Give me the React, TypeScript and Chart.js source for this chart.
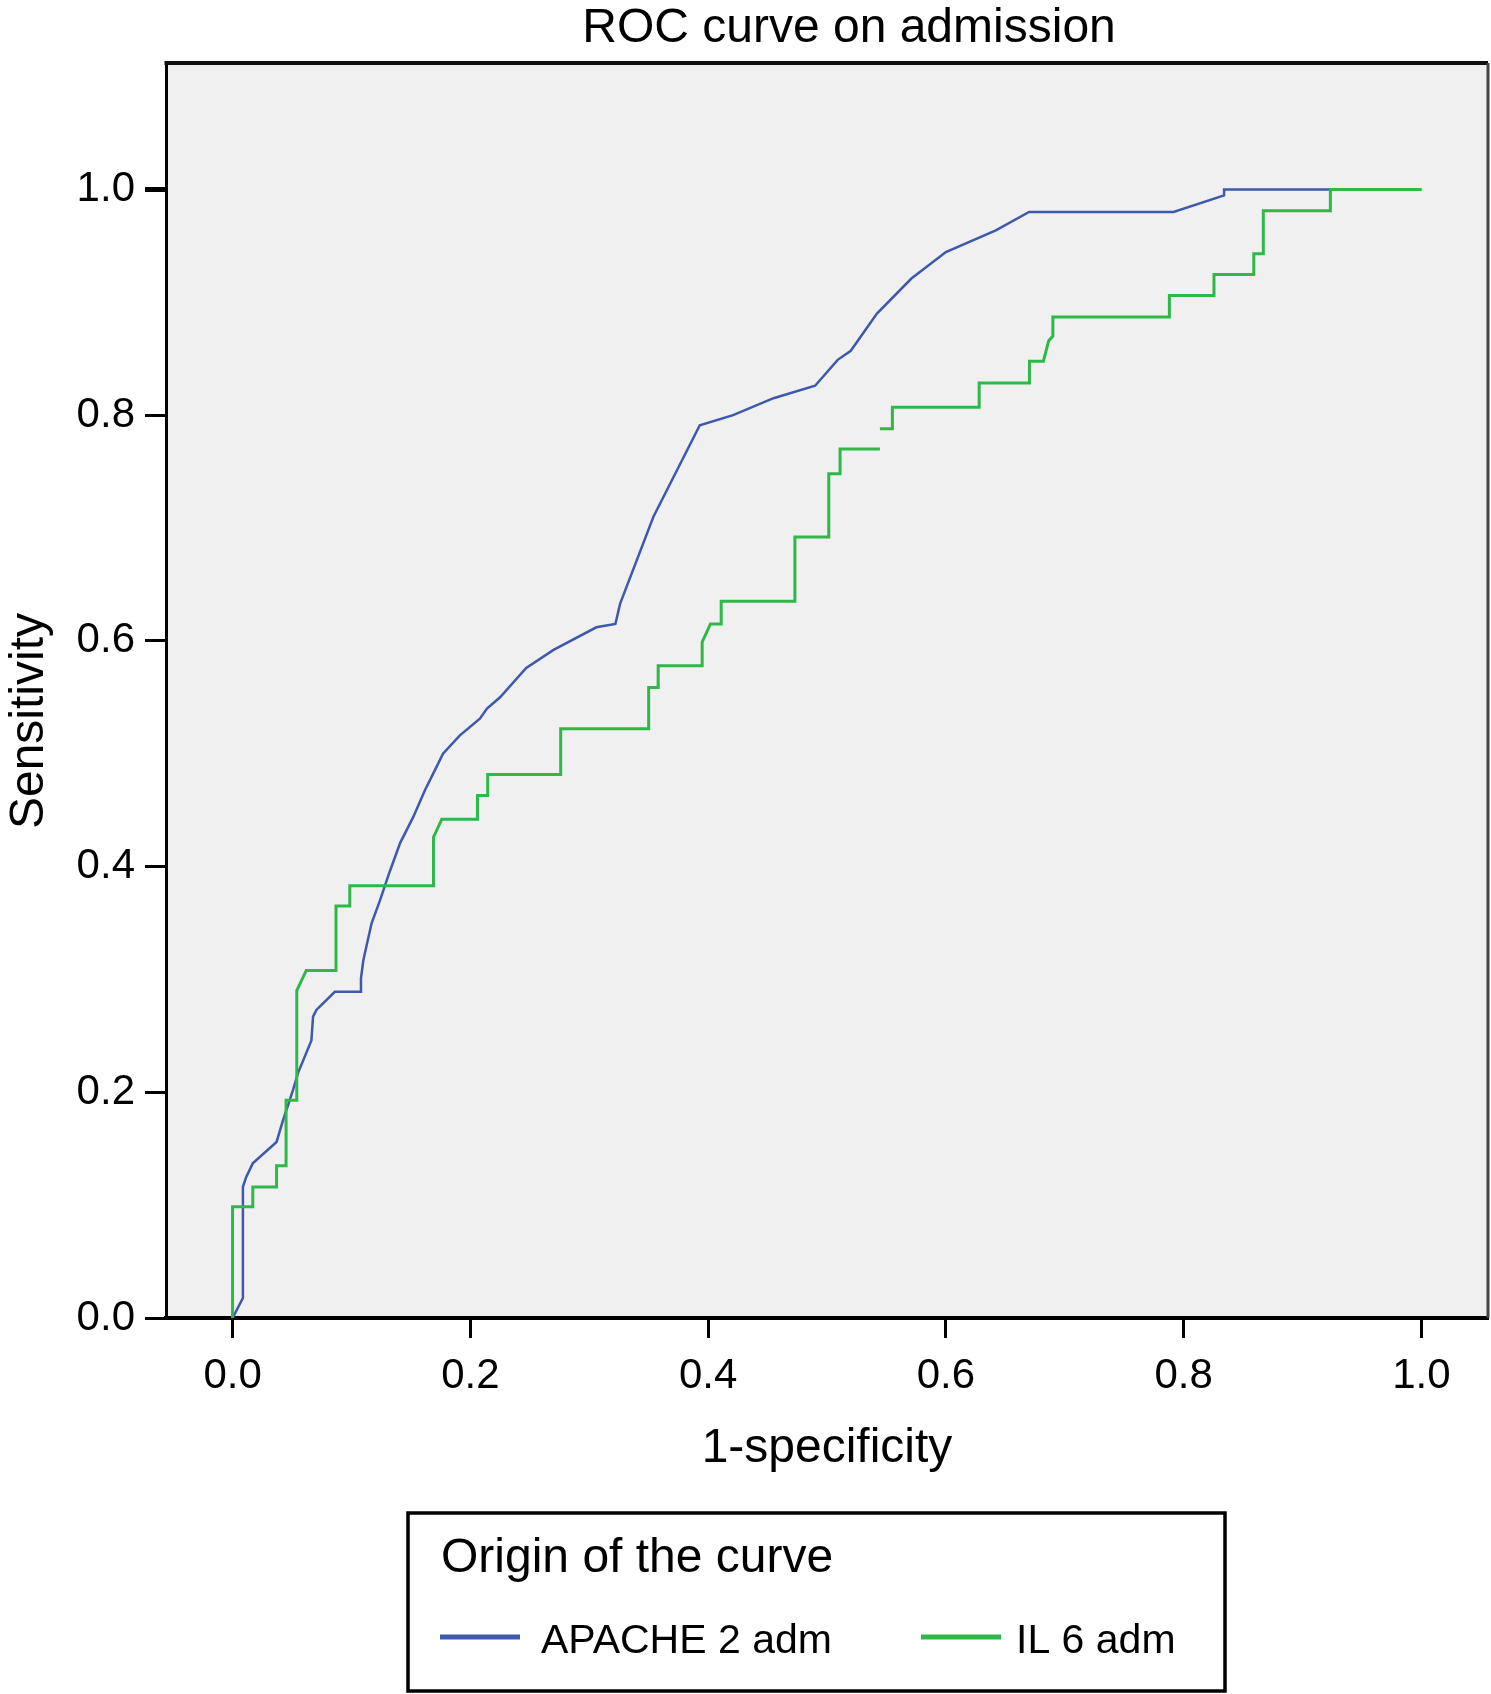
import React, { useEffect, useRef } from "react";
import { Chart, registerables } from "chart.js";

Chart.register(...registerables);

const chartTitle = "ROC curve on admission";
const xAxisTitle = "1-specificity";
const yAxisTitle = "Sensitivity";
const legendTitle = "Origin of the curve";
const seriesNames = ["APACHE 2 adm", "IL 6 adm"];
const seriesColors = ["#3E58AC", "#2EB848"];
const tickValues = [0, 0.2, 0.4, 0.6, 0.8, 1.0];

const apacheX = [
  0, 0.0087, 0.0087, 0.0115, 0.017, 0.037, 0.0424, 0.0508, 0.055, 0.0663,
  0.0677, 0.0705, 0.086, 0.108, 0.108, 0.11, 0.114, 0.117, 0.124, 0.132,
  0.141, 0.152, 0.162, 0.17, 0.177, 0.191, 0.208, 0.214, 0.225, 0.247,
  0.27, 0.306, 0.322, 0.326, 0.354, 0.393, 0.421, 0.455, 0.49, 0.509,
  0.52, 0.542, 0.571, 0.6, 0.642, 0.67, 0.7915, 0.834, 0.834, 1.0,
];
const apacheY = [
  0, 0.0177, 0.1163, 0.125, 0.137, 0.156, 0.175, 0.202, 0.217, 0.246,
  0.267, 0.273, 0.289, 0.289, 0.301, 0.317, 0.336, 0.35, 0.37, 0.395,
  0.421, 0.444, 0.468, 0.485, 0.5, 0.516, 0.531, 0.54, 0.55, 0.576,
  0.592, 0.612, 0.615, 0.633, 0.71, 0.791, 0.8, 0.815, 0.826, 0.849,
  0.857, 0.89, 0.921, 0.9445, 0.9637, 0.98, 0.98, 0.9947, 1.0, 1.0,
];

const il6X = [
  0, 0, 0.017, 0.017, 0.037, 0.037, 0.045, 0.045, 0.054, 0.054,
  0.062, 0.087, 0.087, 0.0986, 0.0986, 0.169, 0.169, 0.176, 0.206, 0.206,
  0.2146, 0.2146, 0.276, 0.276, 0.35, 0.35, 0.358, 0.358, 0.395, 0.395,
  0.402, 0.411, 0.411, 0.473, 0.473, 0.5015, 0.5015, 0.511, 0.511, 0.5445,
  0.5445, 0.5445, 0.555, 0.555, 0.628, 0.628, 0.6703, 0.6703, 0.682, 0.6865,
  0.69, 0.69, 0.788, 0.788, 0.8255, 0.8255, 0.859, 0.859, 0.867, 0.867,
  0.9234, 0.9234, 1.0,
];
const il6Y = [
  0, 0.0986, 0.0986, 0.116, 0.116, 0.135, 0.135, 0.193, 0.193, 0.29,
  0.308, 0.308, 0.365, 0.365, 0.383, 0.383, 0.426, 0.442, 0.442, 0.463,
  0.463, 0.4815, 0.4815, 0.522, 0.522, 0.5586, 0.5586, 0.578, 0.578, 0.599,
  0.615, 0.615, 0.635, 0.635, 0.692, 0.692, 0.748, 0.748, 0.77, 0.77,
  null, 0.788, 0.788, 0.807, 0.807, 0.8285, 0.8285, 0.8477, 0.8477, 0.866,
  0.87, 0.887, 0.887, 0.906, 0.906, 0.9245, 0.9245, 0.943, 0.943, 0.981,
  0.981, 1.0, 1.0,
];

const FONT = '"Liberation Sans", Arial, Helvetica, sans-serif';
const W = 1491;
const H = 1694;

const decorPlugin = {
  id: "decor",
  beforeDraw(chart: any) {
    const { ctx, chartArea } = chart;
    ctx.save();
    ctx.fillStyle = "#ffffff";
    ctx.fillRect(0, 0, chart.width, chart.height);
    ctx.fillStyle = "#f0f0f0";
    ctx.fillRect(chartArea.left, chartArea.top, chartArea.right - chartArea.left, chartArea.bottom - chartArea.top);
    ctx.restore();
  },
  afterDraw(chart: any) {
    const { ctx, chartArea } = chart;
    ctx.save();
    // frame top and right
    ctx.strokeStyle = "#111111";
    ctx.lineWidth = 4;
    ctx.beginPath();
    ctx.moveTo(chartArea.left - 1.5, chartArea.top);
    ctx.lineTo(chartArea.right, chartArea.top);
    ctx.stroke();
    ctx.strokeStyle = "#444444";
    ctx.lineWidth = 3;
    ctx.beginPath();
    ctx.moveTo(chartArea.right, chartArea.top);
    ctx.lineTo(chartArea.right, chartArea.bottom);
    ctx.stroke();

    // chart title
    ctx.fillStyle = "#000000";
    ctx.font = `48px ${FONT}`;
    ctx.textAlign = "center";
    ctx.textBaseline = "alphabetic";
    ctx.fillText(chartTitle, 849, 42);

    // y axis title
    ctx.save();
    ctx.translate(43, 721);
    ctx.rotate(-Math.PI / 2);
    ctx.font = `48px ${FONT}`;
    ctx.textAlign = "center";
    ctx.fillText(yAxisTitle, 0, 0);
    ctx.restore();

    // legend box
    ctx.strokeStyle = "#000000";
    ctx.lineWidth = 3.5;
    ctx.strokeRect(408, 1513, 817, 178);
    ctx.textAlign = "left";
    ctx.font = `48px ${FONT}`;
    ctx.fillText(legendTitle, 441, 1572);
    ctx.font = `41px ${FONT}`;
    const items = [
      { lx: 440, tx: 541 },
      { lx: 921, tx: 1016 },
    ];
    items.forEach((it, i) => {
      ctx.fillStyle = seriesColors[i];
      ctx.fillRect(it.lx, 1634.5, 80, 5);
      ctx.fillStyle = "#000000";
      ctx.fillText(seriesNames[i], it.tx, 1653);
    });
    ctx.restore();
  },
};

export default function App() {
  const canvasRef = useRef<HTMLCanvasElement | null>(null);

  useEffect(() => {
    document.body.style.margin = "0";
    const canvas = canvasRef.current;
    if (!canvas) return;
    const apacheData = apacheX.map((x, i) => ({ x, y: apacheY[i] }));
    const il6Data = il6X.map((x, i) => ({ x, y: il6Y[i] }));
    const chart = new Chart(canvas, {
      type: "line",
      data: {
        datasets: [
          {
            label: seriesNames[0],
            data: apacheData as any,
            borderColor: seriesColors[0],
            backgroundColor: seriesColors[0],
            borderWidth: 2.5,
            pointRadius: 0,
            tension: 0,
            fill: false,
            order: 1,
          },
          {
            label: seriesNames[1],
            data: il6Data as any,
            borderColor: seriesColors[1],
            backgroundColor: seriesColors[1],
            borderWidth: 3,
            pointRadius: 0,
            tension: 0,
            fill: false,
            spanGaps: false,
            order: 0,
          },
        ],
      },
      options: {
        animation: false,
        responsive: false,
        devicePixelRatio: 1,
        layout: { padding: { top: 63, left: 0, right: 3, bottom: 0 } },
        plugins: {
          legend: { display: false },
          title: { display: false },
          tooltip: { enabled: false },
        },
        scales: {
          x: {
            type: "linear",
            min: -0.056,
            max: 1.056,
            afterFit: (s: any) => {
              s.height = 376;
            },
            afterBuildTicks: (s: any) => {
              s.ticks = tickValues.map((v) => ({ value: v }));
            },
            border: { display: true, color: "#000000", width: 4 },
            grid: {
              drawOnChartArea: false,
              drawTicks: true,
              tickLength: 20,
              tickWidth: 3,
              tickColor: "#000000",
              color: "#000000",
            },
            ticks: {
              padding: 13,
              color: "#000000",
              font: { family: FONT, size: 42 },
              callback: (v: any) => Number(v).toFixed(1),
              maxRotation: 0,
              autoSkip: false,
            },
            title: {
              display: true,
              text: xAxisTitle,
              color: "#000000",
              font: { family: FONT, size: 48 },
              padding: { top: 0, bottom: 216 },
            },
          },
          y: {
            type: "linear",
            min: 0,
            max: 1.112,
            afterFit: (s: any) => {
              s.width = 166;
            },
            afterBuildTicks: (s: any) => {
              s.ticks = tickValues.map((v) => ({ value: v }));
            },
            border: { display: true, color: "#000000", width: 3 },
            grid: {
              drawOnChartArea: false,
              drawTicks: true,
              tickLength: 21,
              tickWidth: (c: any) => (c.tick && c.tick.value === 1 ? 5 : 3),
              tickColor: "#000000",
              color: "#000000",
            },
            ticks: {
              padding: 10,
              color: "#000000",
              font: { family: FONT, size: 42 },
              callback: (v: any) => Number(v).toFixed(1),
              autoSkip: false,
            },
            title: { display: false },
          },
        },
      },
      plugins: [decorPlugin],
    });
    return () => {
      chart.destroy();
    };
  }, []);

  return (
    <div style={{ width: W, height: H, position: "relative" }}>
      <canvas ref={canvasRef} width={W} height={H} style={{ width: W, height: H, display: "block" }} />
    </div>
  );
}
